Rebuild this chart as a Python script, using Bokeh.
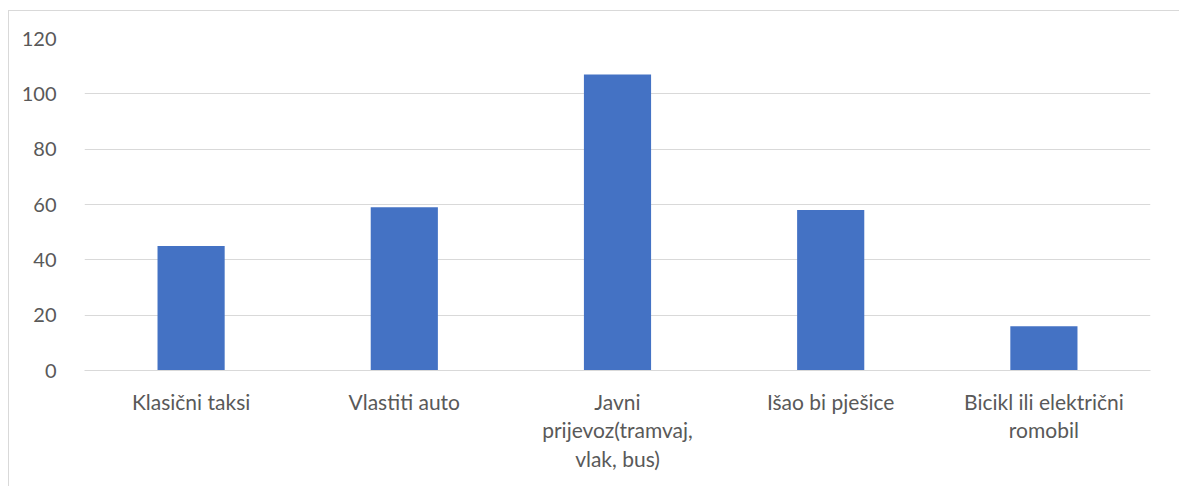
from bokeh.plotting import figure
from bokeh.embed import file_html
from bokeh.resources import INLINE
from bokeh.models import Range1d, FixedTicker

categories = ["Klasični taksi", "Vlastiti auto", "Javni\nprijevoz(tramvaj,\nvlak, bus)",
              "Išao bi pješice", "Bicikl ili električni\nromobil"]
values = [45, 59, 107, 58, 16]
y_ticks = [0, 20, 40, 60, 80, 100, 120]

p = figure(x_range=categories, y_range=Range1d(0, 120),
           width=1171, height=476, output_backend="svg", toolbar_location=None,
           min_border_left=75, min_border_right=30, min_border_top=27, min_border_bottom=117)
p.frame_width = 1066
p.frame_height = 332

p.vbar(x=categories, top=values, width=0.315, fill_color="#4472C4", line_color=None)

p.outline_line_color = None
p.styles = {"border-left": "1px solid #d9d9d9", "border-top": "1px solid #d9d9d9",
            "box-sizing": "border-box", "margin-left": "8px", "margin-top": "10px"}

p.xgrid.grid_line_color = None
p.ygrid.grid_line_color = "#d9d9d9"
p.ygrid.grid_line_width = 1
p.yaxis.ticker = FixedTicker(ticks=y_ticks)

p.yaxis.axis_line_color = None
p.yaxis.major_tick_line_color = None
p.yaxis.minor_tick_line_color = None
p.yaxis.major_label_text_font = "Lato"
p.yaxis.major_label_text_font_size = "20px"
p.yaxis.major_label_text_color = "#595959"
p.yaxis.major_label_standoff = 22

p.xaxis.axis_line_color = "#d9d9d9"
p.xaxis.axis_line_width = 1
p.xaxis.major_tick_line_color = None
p.xaxis.minor_tick_line_color = None
p.xaxis.major_label_text_font = "Lato"
p.xaxis.major_label_text_font_size = "21px"
p.xaxis.major_label_text_color = "#595959"
p.xaxis.major_label_text_line_height = 1.15
p.xaxis.major_label_standoff = 12

open("out.html", "w").write(file_html(p, INLINE))
